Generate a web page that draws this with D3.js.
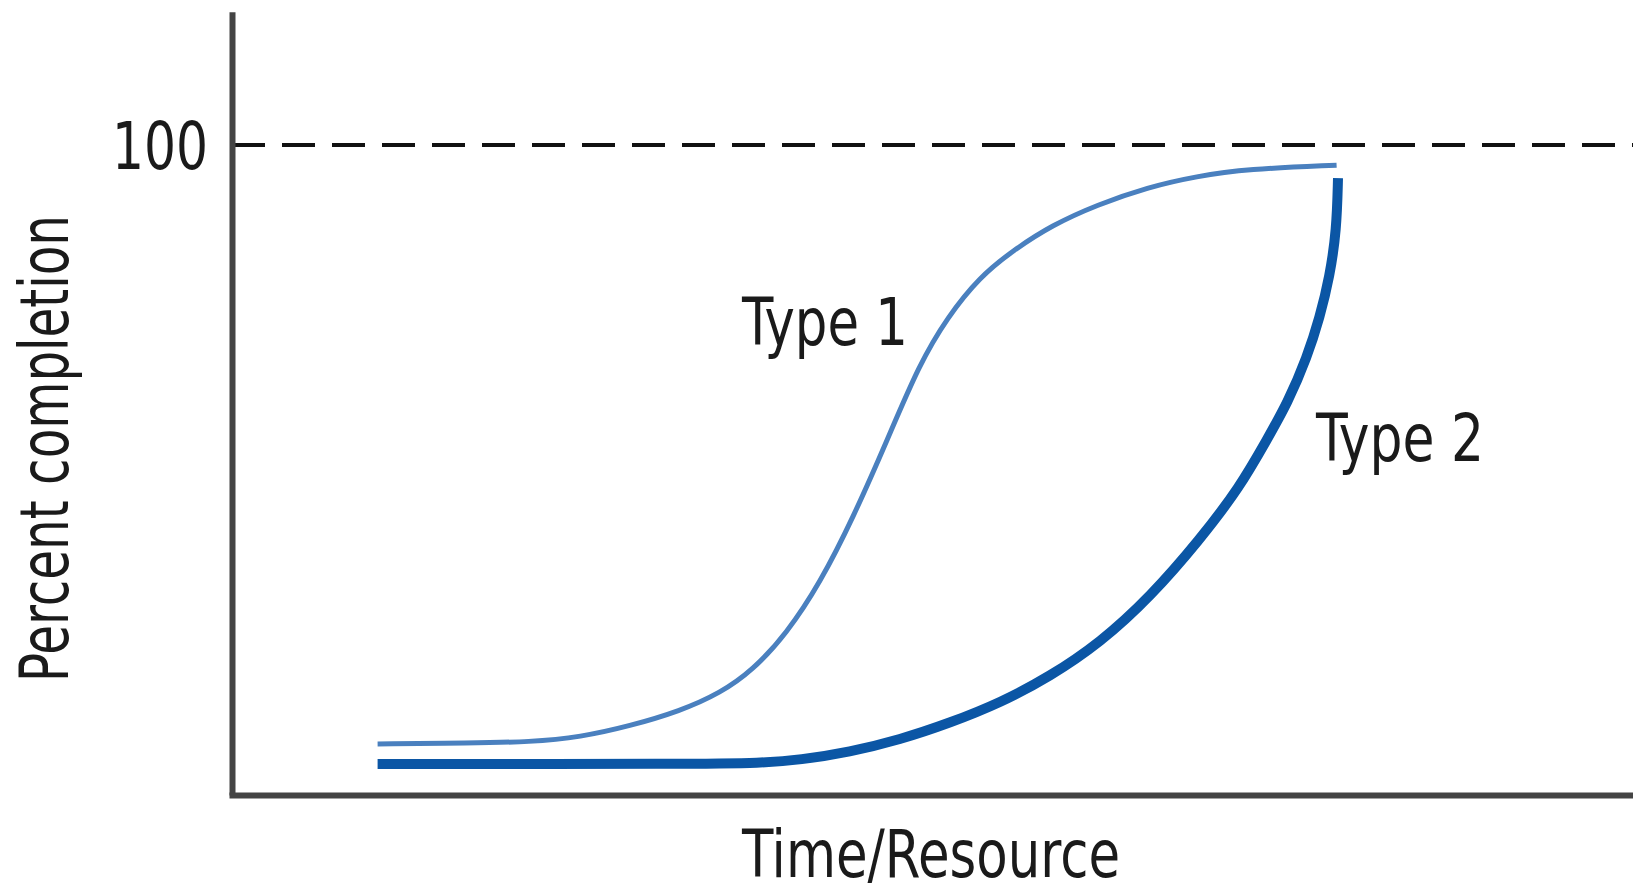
<!DOCTYPE html>
<html>
<head>
<meta charset="utf-8">
<script src="https://cdn.jsdelivr.net/npm/d3@7"></script>
<style>
  body { margin: 0; background: #fff; }
  svg { display: block; }
  text { font-family: "Liberation Sans Narrow", "DejaVu Sans Condensed", sans-serif; fill: #1a1a1a; }
</style>
</head>
<body>
<script>
// curve data (x = time/resource, y = percent completion)
var type1X = [10.4, 17, 21.3, 24.9, 28.4, 32, 34.9, 37.2, 39.6, 42, 44.4, 46.8, 49.1, 51.1, 53.4, 55.8, 58.6, 61.8, 65.4, 68.9, 72.5, 78.9];
var type1Y = [7.85, 8, 8.15, 8.9, 10.6, 12.9, 15.7, 19.2, 24.8, 32.6, 42.8, 54.6, 66.3, 73.5, 79.7, 83.8, 87.7, 90.8, 93.5, 95.2, 96.3, 96.9];
var type2X = [10.4, 33.4, 37.7, 40.6, 44.1, 47.7, 51.3, 54.9, 58.4, 62, 65.6, 69.1, 72, 73.9, 75.4, 76.8, 77.7, 78.4, 78.9, 79];
var type2Y = [4.77, 4.77, 4.92, 5.4, 6.6, 8.5, 11.1, 14.2, 18.2, 23.4, 30.5, 39.2, 47.4, 54.6, 60.3, 67.4, 73.5, 79.7, 86.9, 94.9];
var yTicks = [100];
var seriesNames = ["Type 1", "Type 2"];
var xTitle = "Time/Resource";
var yTitle = "Percent completion";

var width = 1633, height = 884;

var svg = d3.select("body")
  .append("svg")
    .attr("width", width)
    .attr("height", height);

var x = d3.scaleLinear().domain([0, 100]).range([232, 1632]);
var y = d3.scaleLinear().domain([0, 100]).range([795, 145]);
// the drawn y axis runs higher than 100
var yAxisScale = y.copy().domain([0, 120.5]).range([795, y(120.5)]);

// dashed 100% line
svg.append("line")
  .attr("x1", x(0))
  .attr("x2", width)
  .attr("y1", y(100))
  .attr("y2", y(100))
  .attr("stroke", "#111")
  .attr("stroke-width", 4)
  .attr("stroke-dasharray", "33,17");

// add y-axis
var gy = svg.append("g")
  .attr("transform", "translate(" + x(0) + ",0)")
  .call(d3.axisLeft(yAxisScale).tickValues(yTicks).tickSize(0).tickPadding(24).tickFormat(d3.format("d")));
gy.select(".domain").attr("stroke", "#444").attr("stroke-width", 6);
gy.selectAll(".tick text")
  .attr("dy", "0.36em")
  .attr("textLength", 96)
  .attr("lengthAdjust", "spacingAndGlyphs")
  .style("font-size", "66px")
  .style("font-family", null)
  .attr("fill", "#1a1a1a");

// add x-axis
var gx = svg.append("g")
  .attr("transform", "translate(0," + y(0) + ")")
  .call(d3.axisBottom(x.copy().range([229, width + 5])).tickValues([]).tickSizeOuter(0));
gx.select(".domain").attr("stroke", "#444").attr("stroke-width", 6);

var line = d3.line()
  .x(function(d) { return x(d[0]); })
  .y(function(d) { return y(d[1]); })
  .curve(d3.curveBasis);

var type1 = d3.zip(type1X, type1Y);
var type2 = d3.zip(type2X, type2Y);

svg.append("path")
  .datum(type2)
  .attr("fill", "none")
  .attr("stroke", "#0b56a5")
  .attr("stroke-width", 10)
  .attr("d", line);

svg.append("path")
  .datum(type1)
  .attr("fill", "none")
  .attr("stroke", "#4a80bf")
  .attr("stroke-width", 5)
  .attr("d", line);

// curve labels
svg.append("text")
  .attr("x", 742)
  .attr("y", 345)
  .attr("textLength", 166)
  .attr("lengthAdjust", "spacingAndGlyphs")
  .style("font-size", "66px")
  .text(seriesNames[0]);

svg.append("text")
  .attr("x", 1316)
  .attr("y", 461)
  .attr("textLength", 168)
  .attr("lengthAdjust", "spacingAndGlyphs")
  .style("font-size", "66px")
  .text(seriesNames[1]);

// axis titles
svg.append("text")
  .attr("x", 742)
  .attr("y", 877)
  .attr("textLength", 378)
  .attr("lengthAdjust", "spacingAndGlyphs")
  .style("font-size", "66px")
  .text(xTitle);

svg.append("text")
  .attr("transform", "translate(68,682) rotate(-90)")
  .attr("textLength", 467)
  .attr("lengthAdjust", "spacingAndGlyphs")
  .style("font-size", "68px")
  .text(yTitle);
</script>
</body>
</html>
